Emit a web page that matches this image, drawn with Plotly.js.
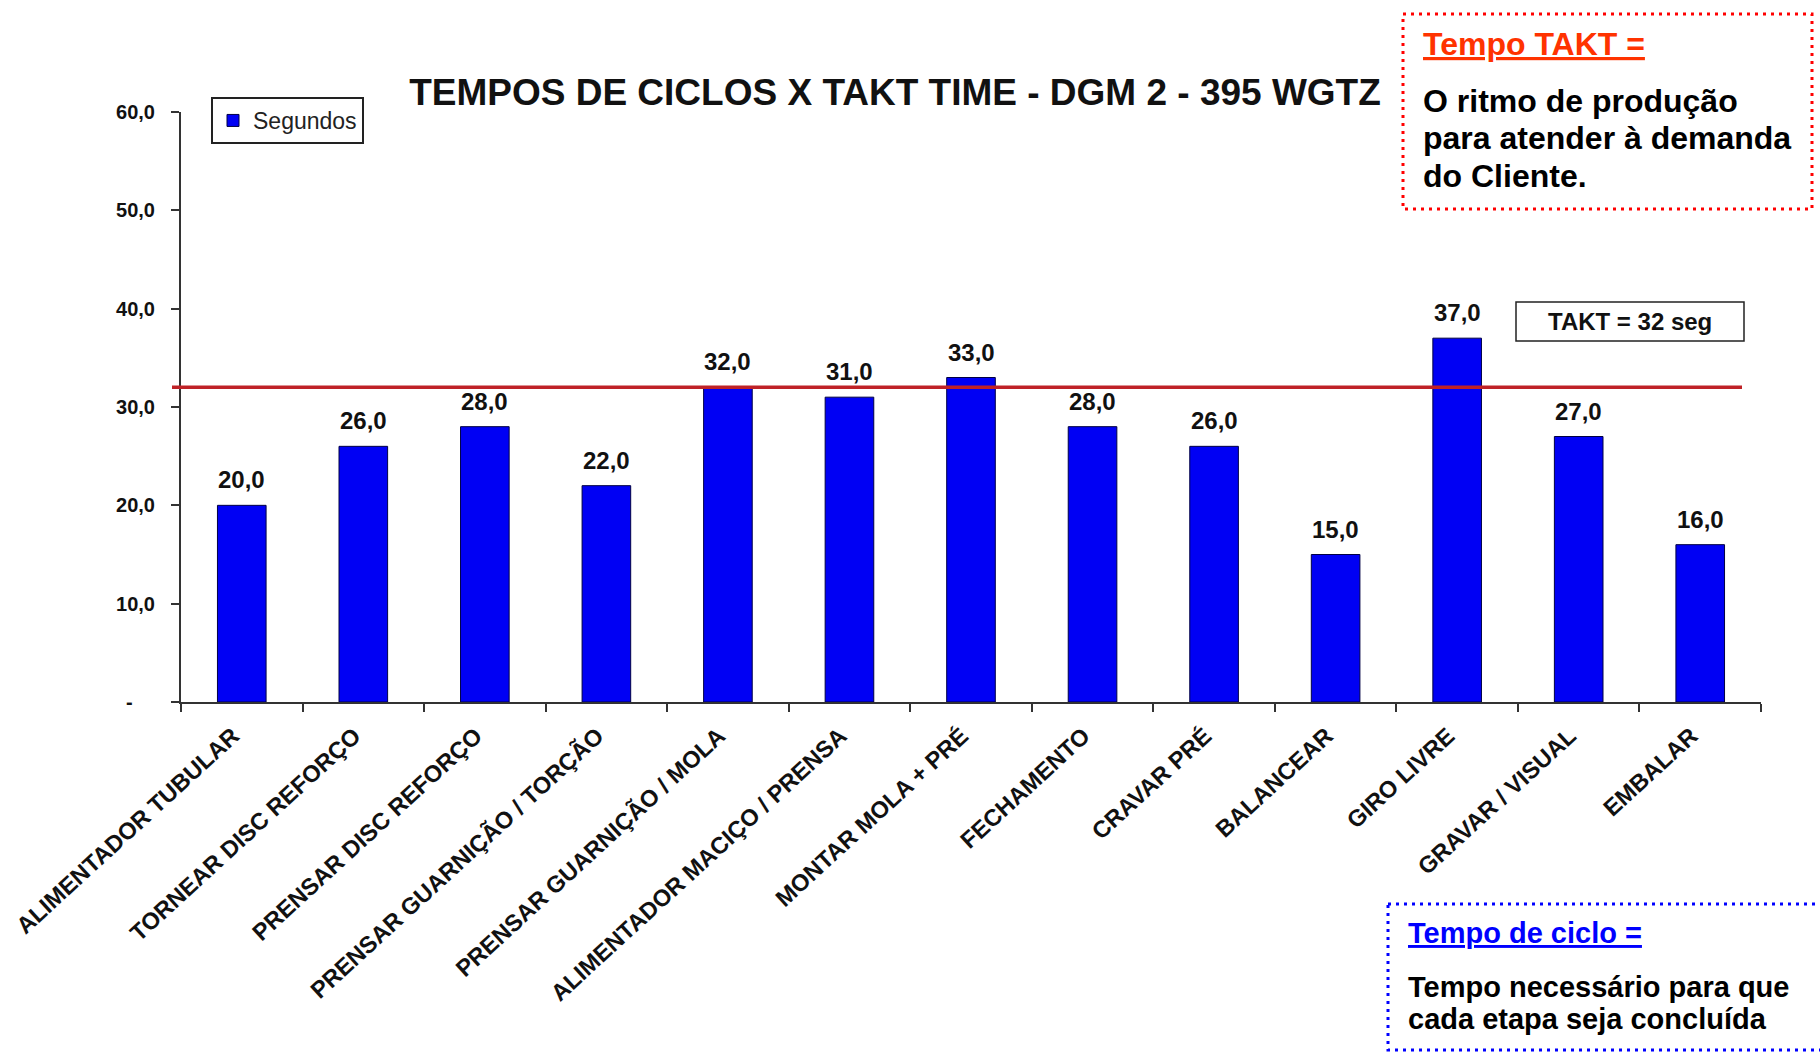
<!DOCTYPE html>
<html>
<head>
<meta charset="utf-8">
<script src="https://cdn.plot.ly/plotly-3.0.1.min.js"></script>
<style>
  html, body { margin: 0; padding: 0; background: #ffffff; }
  #chart { width: 1820px; height: 1052px; }
</style>
</head>
<body>
<div id="chart"></div>
<script>
// ---- data ----
const categories = [
  "ALIMENTADOR TUBULAR",
  "TORNEAR DISC REFORÇO",
  "PRENSAR DISC REFORÇO",
  "PRENSAR GUARNIÇÃO / TORÇÃO",
  "PRENSAR GUARNIÇÃO / MOLA",
  "ALIMENTADOR MACIÇO / PRENSA",
  "MONTAR MOLA + PRÉ",
  "FECHAMENTO",
  "CRAVAR PRÉ",
  "BALANCEAR",
  "GIRO LIVRE",
  "GRAVAR / VISUAL",
  "EMBALAR"
];
const segundos = [20, 26, 28, 22, 32, 31, 33, 28, 26, 15, 37, 27, 16];
const TAKT = 32;
const yTickVals = [0, 10, 20, 30, 40, 50, 60];
const yTickText = ["-\u00a0\u00a0\u00a0\u00a0", "10,0", "20,0", "30,0", "40,0", "50,0", "60,0"];
const chartTitle = "TEMPOS DE CICLOS X TAKT TIME - DGM 2 - 395 WGTZ";
const seriesName = "Segundos";
const taktHeading = "Tempo TAKT =";
const taktLines = ["O ritmo de produção", "para atender à demanda", "do Cliente."];
const cicloHeading = "Tempo de ciclo =";
const cicloLines = ["Tempo necessário para que", "cada etapa seja concluída"];

// ---- layout helpers (pixel -> paper) ----
const W = 1820, H = 1052;
const ML = 181, MR = 59, MT = 112, MB = 350;
const PW = W - ML - MR, PH = H - MT - MB;
const PX = px => (px - ML) / PW;
const PY = py => (H - MB - py) / PH;

const FONT = "Liberation Sans, Arial, Helvetica, sans-serif";
const fmt = v => v.toFixed(1).replace(".", ",");

const trace = {
  type: "bar",
  x: categories,
  y: segundos,
  name: seriesName,
  marker: { color: "#0000f4", line: { color: "#000044", width: 1 } },
  hoverinfo: "x+y",
  showlegend: true
};

const annotations = [];
// value labels above bars
segundos.forEach((v, i) => {
  annotations.push({
    x: categories[i], y: v, xref: "x", yref: "y",
    text: fmt(v), showarrow: false,
    xanchor: "center", yanchor: "bottom", yshift: 10,
    font: { family: FONT, size: 24, color: "#111111", weight: "bold" }
  });
});
// TAKT box label
annotations.push({
  xref: "paper", yref: "paper", x: PX(1630), y: PY(321.5),
  xanchor: "center", yanchor: "middle", showarrow: false,
  text: "TAKT = " + TAKT + " seg",
  font: { family: FONT, size: 24, color: "#111111", weight: "bold" }
});
// box texts
function textAt(px, baseline, size, str, color, underline) {
  const f = { family: FONT, size: size, color: color, weight: "bold" };
  if (underline) f.lineposition = "under";
  annotations.push({
    xref: "paper", yref: "paper", x: PX(px), y: PY(baseline - 0.35 * size),
    xanchor: "left", yanchor: "middle", showarrow: false, text: str, font: f
  });
}
textAt(1421, 55, 32, taktHeading, "#ff3300", true);
[112, 149, 187].forEach((b, i) => textAt(1421, b, 32, taktLines[i], "#000000", false));
textAt(1406, 943, 29, cicloHeading, "#0000ff", true);
[997, 1029].forEach((b, i) => textAt(1406, b, 29, cicloLines[i], "#000000", false));

const shapes = [
  // TAKT line
  { type: "line", xref: "paper", yref: "y", x0: PX(172), x1: PX(1742), y0: TAKT, y1: TAKT,
    line: { color: "#bf2227", width: 3.5 }, layer: "above" },
  // TAKT box
  { type: "rect", xref: "paper", yref: "paper", x0: PX(1516), x1: PX(1744), y0: PY(302), y1: PY(341),
    line: { color: "#222222", width: 1.5 }, fillcolor: "rgba(255,255,255,0)", layer: "above" },
  // red dotted box
  { type: "rect", xref: "paper", yref: "paper", x0: PX(1403), x1: PX(1812), y0: PY(14), y1: PY(209),
    line: { color: "#ff0000", width: 3, dash: "3px,5px" }, layer: "above" },
  // blue dotted box
  { type: "rect", xref: "paper", yref: "paper", x0: PX(1388), x1: PX(1840), y0: PY(904), y1: PY(1050),
    line: { color: "#0000ff", width: 3, dash: "3px,5px" }, layer: "above" }
];

const layout = {
  width: W, height: H,
  margin: { l: ML, r: MR, t: MT, b: MB, pad: 0 },
  paper_bgcolor: "#ffffff", plot_bgcolor: "#ffffff",
  font: { family: FONT, color: "#111111" },
  title: {
    text: chartTitle, xref: "container", yref: "container",
    x: 895 / W, y: 1 - (105 - 0.35 * 37) / H, xanchor: "center", yanchor: "middle",
    font: { family: FONT, size: 37, color: "#111111", weight: "bold" }
  },
  bargap: 0.6,
  showlegend: true,
  legend: {
    x: PX(211), y: PY(97), xanchor: "left", yanchor: "top",
    bgcolor: "#ffffff", bordercolor: "#222222", borderwidth: 2,
    font: { family: FONT, size: 23, color: "#222222" }
  },
  xaxis: {
    type: "category", showgrid: false, zeroline: false,
    showline: true, linecolor: "#333333", linewidth: 2,
    ticks: "outside", tickson: "boundaries", ticklen: 8, tickwidth: 2, tickcolor: "#333333",
    tickangle: -42.5,
    ticklabelstandoff: 9, ticklabelshift: -9,
    tickfont: { family: FONT, size: 23.5, color: "#111111", weight: "bold" },
    fixedrange: true
  },
  yaxis: {
    range: [0, 60], showgrid: false, zeroline: false,
    showline: true, linecolor: "#333333", linewidth: 2,
    ticks: "outside", ticklen: 8, tickwidth: 2, tickcolor: "#333333",
    tickvals: yTickVals, ticktext: yTickText,
    ticklabelstandoff: 12,
    tickfont: { family: FONT, size: 20, color: "#111111", weight: "bold" },
    fixedrange: true
  },
  shapes: shapes,
  annotations: annotations
};

Plotly.newPlot("chart", [trace], layout, { displayModeBar: false, responsive: false });
</script>
</body>
</html>
